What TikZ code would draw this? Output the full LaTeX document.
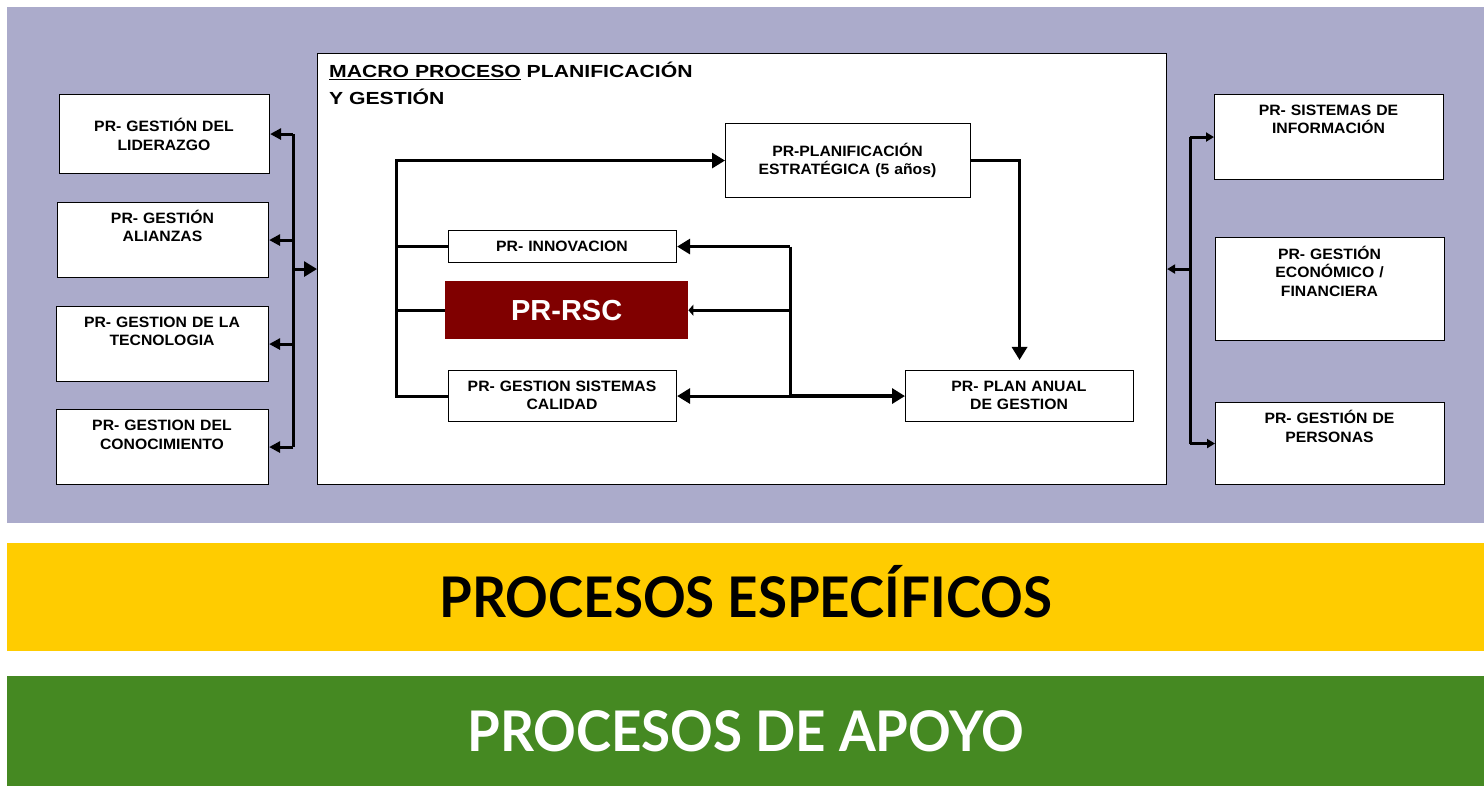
\documentclass[tikz,border=0pt]{standalone}
\usepackage{fontspec}
\setmainfont{Liberation Sans}
\newfontfamily\boxfont[FakeStretch=1.05]{Liberation Sans}
\newfontfamily\titlefont[FakeStretch=1.21]{Liberation Sans}
\newfontfamily\bandfont[FakeStretch=0.945]{Lato}
\usetikzlibrary{arrows.meta,calc}
\definecolor{lav}{RGB}{171,171,203}
\definecolor{yel}{RGB}{255,204,0}
\definecolor{grn}{RGB}{69,137,34}
\definecolor{rscred}{RGB}{128,0,0}
\tikzset{
  pbox/.style={draw=black, fill=white, line width=1.1pt, inner sep=0pt, anchor=north west},
  btxt/.style={font=\boxfont\bfseries\fontsize{15}{18.5}\selectfont, align=center, text width=240pt, inner sep=0pt, anchor=base},
  conn/.style={line width=3pt},
  bigtip/.style={-{Triangle[length=13pt,width=15pt]}},
  midtip/.style={-{Triangle[length=11pt,width=11pt]}},
  smalltip/.style={-{Triangle[length=8pt,width=9pt]}},
  band/.style={minimum width=1477pt, inner sep=0pt, anchor=north west, font=\bandfont\bfseries\fontsize{56}{60}\selectfont, text height=40pt, text depth=0pt}
}
\begin{document}
\begin{tikzpicture}[x=1pt,y=-1pt]
\useasboundingbox (0,0) rectangle (1484,786);
\fill[white] (0,0) rectangle (1484,786);
\fill[lav] (7,7) rectangle (1484,523);

% bands
\node[band, fill=yel, minimum height=108pt, text=black] (esp) at (7,543) {PROCESOS ESPECÍFICOS};
\node[band, fill=grn, minimum height=110pt, text=white] (apo) at (7,676) {PROCESOS DE APOYO};

% macro box
\node[pbox, minimum width=849pt, minimum height=431pt] (macro) at (317,53) {};
\node[font=\titlefont\bfseries\fontsize{17.5}{27}\selectfont, align=left, text width=420pt, inner sep=0pt, anchor=base west] (mtitle) at (329,78) {\underline{MACRO PROCESO} PLANIFICACIÓN\\Y GESTIÓN};

% left boxes
\node[pbox, minimum width=210pt, minimum height=79pt] (lid) at (59,94) {};
\node[btxt] (lidt) at (164,132) {PR- GESTIÓN DEL\\LIDERAZGO};
\node[pbox, minimum width=211pt, minimum height=75pt] (ali) at (57,202) {};
\node[btxt] (alit) at (162.5,223.5) {PR- GESTIÓN\\ALIANZAS};
\node[pbox, minimum width=212pt, minimum height=75pt] (tec) at (56,306) {};
\node[btxt] (tect) at (162,327.5) {PR- GESTION DE LA\\TECNOLOGIA};
\node[pbox, minimum width=212pt, minimum height=75pt] (con) at (56,409) {};
\node[btxt] (cont) at (162,430.5) {PR- GESTION DEL\\CONOCIMIENTO};

% right boxes
\node[pbox, minimum width=229pt, minimum height=85pt] (sist) at (1214,94) {};
\node[btxt] (sistt) at (1328.5,115.5) {PR- SISTEMAS DE\\INFORMACIÓN};
\node[pbox, minimum width=229pt, minimum height=103pt] (eco) at (1215,237) {};
\node[btxt] (ecot) at (1329.5,259.5) {PR- GESTIÓN\\ECONÓMICO /\\FINANCIERA};
\node[pbox, minimum width=229pt, minimum height=82pt] (pers) at (1215,402) {};
\node[btxt] (perst) at (1329.5,423.5) {PR- GESTIÓN DE\\PERSONAS};

% center boxes
\node[pbox, minimum width=245pt, minimum height=74pt] (plan) at (725,123) {};
\node[btxt] (plant) at (847.5,156.5) {PR-PLANIFICACIÓN\\ESTRATÉGICA (5 años)};
\node[pbox, minimum width=228pt, minimum height=32pt] (innov) at (448,230) {};
\node[btxt] (innovt) at (562,251.5) {PR- INNOVACION};
\node[pbox, minimum width=228pt, minimum height=51pt] (calid) at (448,370) {};
\node[btxt] (calidt) at (562,391.5) {PR- GESTION SISTEMAS\\CALIDAD};
\node[pbox, minimum width=228pt, minimum height=51pt] (anual) at (905,370) {};
\node[btxt] (anualt) at (1019,391.5) {PR- PLAN ANUAL\\DE GESTION};
\node[fill=rscred, minimum width=243pt, minimum height=58pt, inner sep=0pt, anchor=north west, text=white, font=\bfseries\fontsize{29}{32}\selectfont] (rsc) at (445,281) {PR-RSC};

% left bus
\coordinate (lb) at (293,0);
\draw[conn] (lid.east -| lb) -- (con.east -| lb);
\draw[conn,midtip] (lid.east -| lb) -- (lid.east);
\draw[conn,midtip] (ali.east -| lb) -- (ali.east);
\draw[conn,midtip] (tec.east -| lb) -- (tec.east);
\draw[conn,midtip] (con.east -| lb) -- (con.east);
\draw[conn,bigtip] (macro.west -| lb) -- (macro.west);

% right bus
\coordinate (rb) at (1190,0);
\draw[conn] (sist.west -| rb) -- (pers.west -| rb);
\draw[conn,smalltip] (sist.west -| rb) -- (sist.west);
\draw[conn,smalltip] (pers.west -| rb) -- (pers.west);
\draw[conn,smalltip] (macro.east -| rb) -- (macro.east);

% center left loop
\coordinate (cl) at (396,0);
\draw[conn,bigtip] (calid.west) -- (calid.west -| cl) -- (plan.west -| cl) -- (plan.west);
\draw[conn] (innov.west -| cl) -- (innov.west);
\draw[conn] (rsc.west -| cl) -- (rsc.west);

% center right
\draw[conn,bigtip,shorten >=10pt] (plan.east) -| (anual.north);
\coordinate (cr) at (790,0);
\draw[conn] (innov.east -| cr) -- (calid.east -| cr);
\draw[conn,bigtip] (innov.east -| cr) -- (innov.east);
\draw[conn,bigtip] (calid.east -| cr) -- (calid.east);
\draw[line width=3.8pt,bigtip] (calid.east -| cr) -- (anual.west);
\draw[conn,-{Triangle[length=5pt,width=11pt]}] (rsc.east -| cr) -- (rsc.east);
\end{tikzpicture}
\end{document}
